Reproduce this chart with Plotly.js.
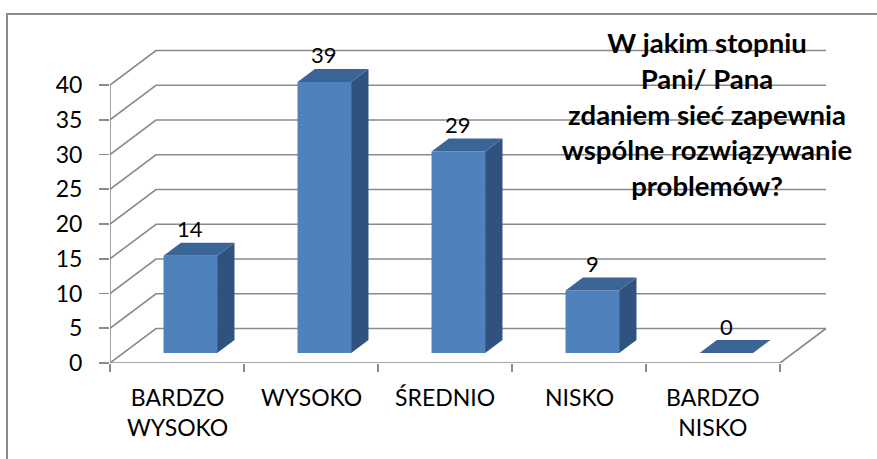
<!DOCTYPE html>
<html>
<head>
<meta charset="utf-8">
<script src="https://cdn.plot.ly/plotly-3.0.1.min.js"></script>
<style>
  html, body { margin: 0; padding: 0; background: #ffffff; }
  #wrap { position: relative; width: 877px; height: 459px; overflow: hidden; }
  #chart { position: absolute; left: 0; top: 0; width: 877px; height: 459px; }
  #frame { position: absolute; left: 6px; top: 13px; width: 880px; height: 460px;
           border-top: 2px solid #8a8a8a; border-left: 2px solid #8a8a8a; pointer-events: none; }
</style>
</head>
<body>
<div id="wrap">
  <div id="chart"></div>
  <div id="frame"></div>
</div>
<script>
// ---- data ----
var categories = ["BARDZO<br>WYSOKO", "WYSOKO", "ŚREDNIO", "NISKO", "BARDZO<br>NISKO"];
var values = [14, 39, 29, 9, 0];
var yTickValues = [0, 5, 10, 15, 20, 25, 30, 35, 40];
var yTickLabels = ["0", "5", "10", "15", "20", "25", "30", "35", "40"];
var titleLines = ["W jakim stopniu", "Pani/ Pana", "zdaniem sieć zapewnia", "wspólne rozwiązywanie", "problemów?"];

// ---- geometry / style ----
var W = 877, H = 459;
var mL = 110, mR = 47, mT = 14, mB = 96;
var pxPerCat = 134, pxPerVal = 6.95;
var xMax = (W - mL - mR) / pxPerCat;
var yMax = (H - mT - mB) / pxPerVal;
var DX = 46 / pxPerCat;      // depth offset in category units
var DY = 34.5 / pxPerVal;    // depth offset in value units
var barW = 0.40, f0 = 0.29, f1 = 0.667;
var gridColor = "#8a8a8a";
var cFront = "#4f81bd", cSide = "#30527e", cTop = "#3c6597";
var font = "Lato, 'Open Sans', sans-serif";
var nCat = categories.length;

var traces = [];

// 3D walls: left wall diagonals + back wall gridlines
var gx = [], gy = [];
yTickValues.forEach(function (v) {
  gx.push(0, DX, nCat + DX, null);
  gy.push(v, v + DY, v + DY, null);
});
// floor front edge and right edge
gx.push(0, nCat, nCat + DX, null);
gy.push(0, 0, DY, null);
// vertical value axis line
gx.push(0, 0, null);
gy.push(0, yTickValues[yTickValues.length - 1], null);
traces.push({ x: gx, y: gy, type: "scatter", mode: "lines",
  line: { color: gridColor, width: 1.6 }, hoverinfo: "skip", connectgaps: false });

// bars
var annotations = [];
values.forEach(function (v, i) {
  var c = i + 0.5;
  var x0 = c - barW / 2 + f0 * DX, x1 = c + barW / 2 + f0 * DX;
  var b = f0 * DY;
  var ddx = (f1 - f0) * DX, ddy = (f1 - f0) * DY;
  // front
  traces.push({ x: [x0, x1, x1, x0, x0], y: [b, b, b + v, b + v, b], type: "scatter", mode: "lines",
    fill: "toself", fillcolor: cFront, line: { width: 0, color: cFront }, hoverinfo: "skip" });
  // side
  traces.push({ x: [x1, x1 + ddx, x1 + ddx, x1, x1], y: [b, b + ddy, b + ddy + v, b + v, b], type: "scatter", mode: "lines",
    fill: "toself", fillcolor: cSide, line: { width: 0, color: cSide }, hoverinfo: "skip" });
  // top
  traces.push({ x: [x0, x1, x1 + ddx, x0 + ddx, x0], y: [b + v, b + v, b + v + ddy, b + v + ddy, b + v], type: "scatter", mode: "lines",
    fill: "toself", fillcolor: cTop, line: { width: 0, color: cTop }, hoverinfo: "skip" });
  // value label
  annotations.push({ x: (x0 + x1) / 2, y: b + v, xref: "x", yref: "y", text: String(v), showarrow: false,
    yanchor: "middle", yshift: 27, font: { family: font, size: 22, color: "#000000" } });
  // category label
  annotations.push({ x: c, y: 0, xref: "x", yref: "y", text: categories[i], showarrow: false,
    yanchor: "top", yshift: -18, font: { family: font, size: 23, color: "#000000" } });
});

var layout = {
  width: W, height: H,
  margin: { l: mL, r: mR, t: mT, b: mB, pad: 0 },
  paper_bgcolor: "#ffffff", plot_bgcolor: "rgba(0,0,0,0)",
  showlegend: false,
  title: {
    text: "<b>" + titleLines.join("<br>") + "</b>",
    x: 707 / W, xanchor: "center", xref: "container",
    y: 1 - 53 / H, yanchor: "middle", yref: "container",
    font: { family: font, size: 27.5, color: "#000000" }
  },
  xaxis: {
    range: [0, xMax], tickmode: "array", tickvals: [0, 1, 2, 3, 4, 5].slice(0, nCat + 1),
    showticklabels: false, ticks: "outside", ticklen: 8, tickwidth: 1.6, tickcolor: gridColor,
    showgrid: false, zeroline: false, showline: false, fixedrange: true
  },
  yaxis: {
    range: [0, yMax], tickmode: "array", tickvals: yTickValues, ticktext: yTickLabels,
    ticks: "outside", ticklen: 10, tickwidth: 1.6, tickcolor: gridColor, ticklabelstandoff: 12,
    tickfont: { family: font, size: 23, color: "#000000" },
    showgrid: false, zeroline: false, showline: false, fixedrange: true
  },
  annotations: annotations
};

Plotly.newPlot("chart", traces, layout, { staticPlot: true, displayModeBar: false });
</script>
</body>
</html>
